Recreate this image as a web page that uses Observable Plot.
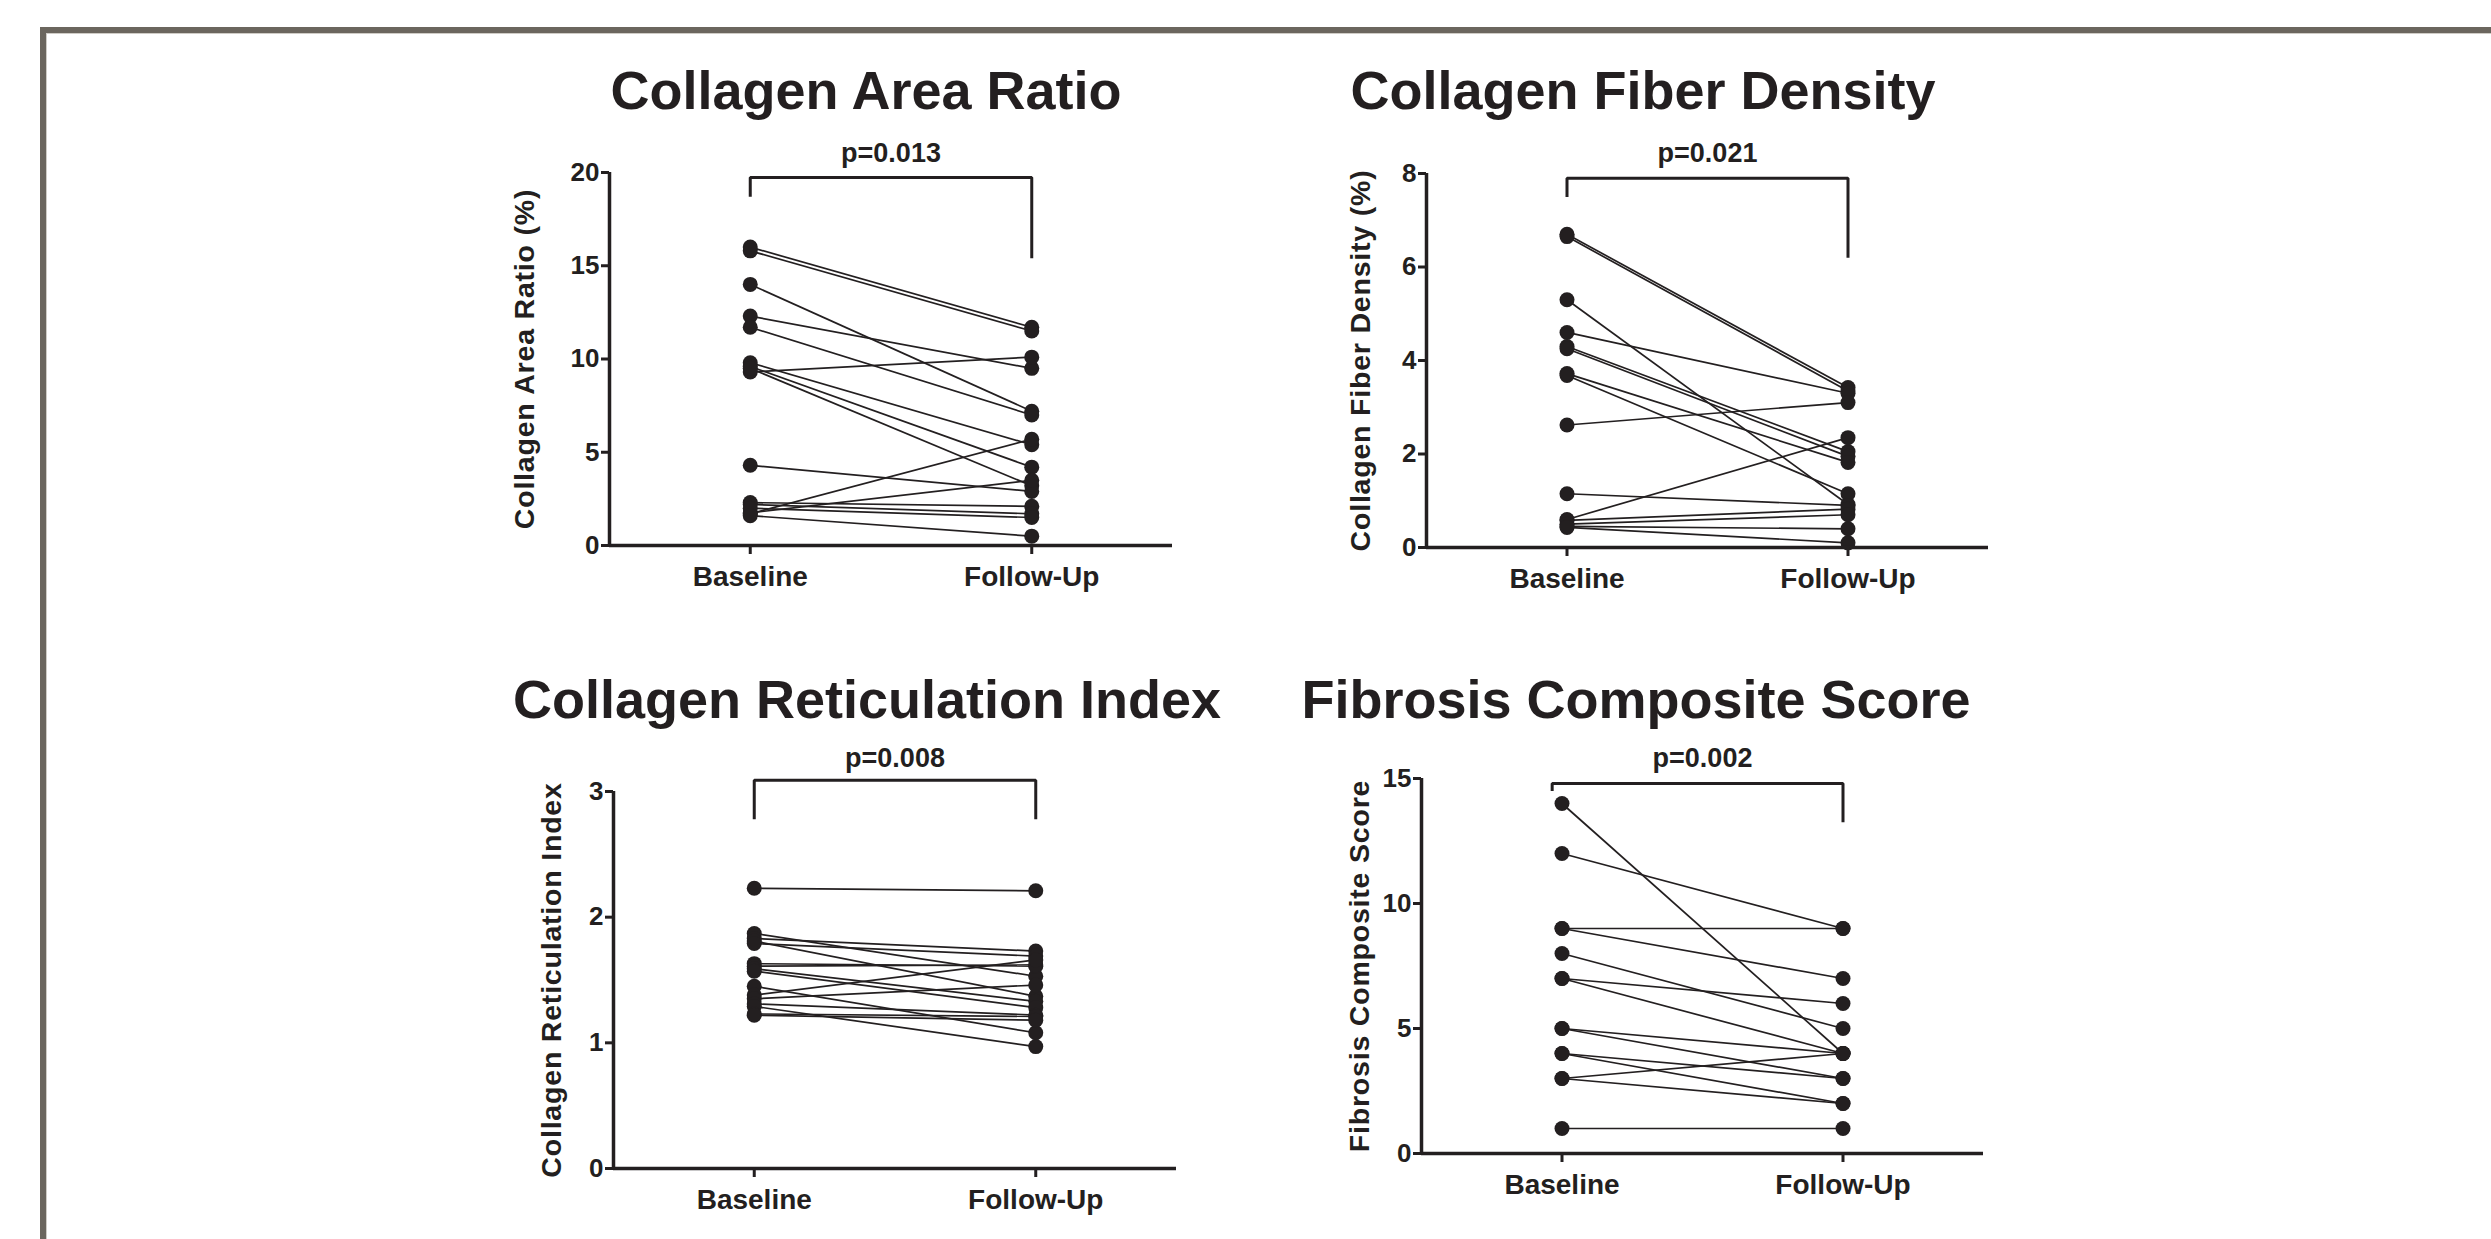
<!DOCTYPE html>
<html>
<head>
<meta charset="utf-8">
<script src="https://cdn.jsdelivr.net/npm/d3@7"></script>
<script src="https://cdn.jsdelivr.net/npm/@observablehq/plot@0.6"></script>
<style>
  html, body { margin: 0; padding: 0; background: #ffffff; width: 2491px; height: 1239px; overflow: hidden; }
  body { position: relative; font-family: "Liberation Sans", Arial, Helvetica, sans-serif; }
  #frame { position: absolute; left: 40px; top: 27px; width: 2500px; height: 1300px;
           border-top: 6px solid #6b665e; border-left: 6px solid #6b665e; box-sizing: border-box; }
  #frame2 { position: absolute; left: 46px; top: 33px; width: 2500px; height: 1300px;
           border-top: 1px solid #cfccc6; border-left: 1px solid #cfccc6; box-sizing: border-box; }
  .panel { position: absolute; z-index: 1; }
  .title { position: absolute; z-index: 2; font-weight: bold; font-size: 54px; line-height: 1;
           color: #231f20; white-space: nowrap; transform: translateX(-50%); }
</style>
</head>
<body>
<div id="frame"></div>
<div id="frame2"></div>
<script>
// ---------------- data ----------------
const groups = ["Baseline", "Follow-Up"];
const titles = ["Collagen Area Ratio", "Collagen Fiber Density", "Collagen Reticulation Index", "Fibrosis Composite Score"];
const yLabels = ["Collagen Area Ratio (%)", "Collagen Fiber Density (%)", "Collagen Reticulation Index", "Fibrosis Composite Score"];
const pValues = ["p=0.013", "p=0.021", "p=0.008", "p=0.002"];
const yTicks = [[0, 5, 10, 15, 20], [0, 2, 4, 6, 8], [0, 1, 2, 3], [0, 5, 10, 15]];

const areaBaseline = [16.0, 15.8, 14.0, 12.3, 11.7, 9.3, 9.8, 9.6, 9.5, 4.3, 1.7, 1.75, 2.3, 2.2, 2.0, 1.6];
const areaFollowUp = [11.7, 11.5, 7.2, 9.5, 7.0, 10.1, 5.4, 4.2, 3.2, 2.9, 5.7, 3.5, 2.1, 1.7, 1.5, 0.5];

const fiberBaseline = [6.70, 6.65, 5.30, 4.60, 4.30, 4.25, 3.72, 3.68, 2.62, 1.15, 0.60, 0.58, 0.50, 0.45, 0.43];
const fiberFollowUp = [3.42, 3.35, 0.92, 3.30, 2.05, 1.95, 1.82, 1.15, 3.10, 0.90, 2.35, 0.82, 0.70, 0.40, 0.10];

const reticBaseline = [2.23, 1.87, 1.83, 1.81, 1.79, 1.63, 1.61, 1.59, 1.57, 1.45, 1.38, 1.35, 1.31, 1.29, 1.23, 1.22];
const reticFollowUp = [2.21, 1.53, 1.73, 1.37, 1.69, 1.61, 1.62, 1.33, 1.28, 1.08, 1.66, 1.46, 1.22, 0.97, 1.21, 1.18];

const scoreBaseline = [14, 12, 9, 9, 8, 7, 7, 5, 5, 4, 4, 3, 3, 1];
const scoreFollowUp = [4, 9, 9, 7, 5, 6, 4, 4, 3, 3, 2, 4, 2, 1];

// significance bracket levels (data units): [top, left leg end, right leg end]
const bracketLevels = [[19.73, 18.7, 15.4], [7.9, 7.5, 6.2], [3.09, 2.78, 2.78], [14.8, 14.5, 13.25]];

// ---------------- layout ----------------
const INK = "#231f20";
const FONT = '"Liberation Sans", Arial, Helvetica, sans-serif';
const frames = [
  {left: 609, right: 1172, top: 172, bottom: 545},
  {left: 1426, right: 1988, top: 173, bottom: 547},
  {left: 613, right: 1176, top: 791, bottom: 1168},
  {left: 1421, right: 1983, top: 778, bottom: 1153}
];
const titlePos = [{x: 866, top: 63}, {x: 1643, top: 63}, {x: 867, top: 672}, {x: 1636, top: 672}];
const pDy = [-19, -20, -33, -20];
const labelDx = [-85, -66, -62, -62];
const bracketLeftX = [0, 0, 0, -0.035];
const ML = 130, MR = 20, MT = 80, MB = 70;

const series = [
  [areaBaseline, areaFollowUp],
  [fiberBaseline, fiberFollowUp],
  [reticBaseline, reticFollowUp],
  [scoreBaseline, scoreFollowUp]
];

series.forEach(([base, follow], i) => {
  const f = frames[i];
  const rows = base.map((b, k) => ({b, f: follow[k]}));
  const ticks = yTicks[i];
  const yMax = ticks[ticks.length - 1];
  const [bt, bl, br] = bracketLevels[i];
  const bracket = [
    {x: bracketLeftX[i], y: bl}, {x: bracketLeftX[i], y: bt}, {x: 1, y: bt}, {x: 1, y: br}
  ];
  const width = ML + (f.right - f.left) + MR;
  const height = MT + (f.bottom - f.top) + MB;

  const svg = Plot.plot({
    width, height,
    marginLeft: ML, marginRight: MR, marginTop: MT, marginBottom: MB,
    style: {background: "transparent", color: INK, fontFamily: FONT, fontWeight: "bold", overflow: "visible", maxWidth: "none"},
    x: {domain: [-0.5, 1.5]},
    y: {domain: [0, yMax]},
    marks: [
      Plot.link(rows, {x1: () => 0, x2: () => 1, y1: "b", y2: "f", stroke: INK, strokeWidth: 1.7}),
      Plot.dot(rows, {x: () => 0, y: "b", r: 7.5, fill: INK, stroke: null}),
      Plot.dot(rows, {x: () => 1, y: "f", r: 7.5, fill: INK, stroke: null}),
      Plot.ruleY([0], {stroke: INK, strokeWidth: 3.5}),
      Plot.ruleX([-0.5], {y1: 0, y2: yMax, stroke: INK, strokeWidth: 3.5}),
      Plot.axisY({ticks, tickFormat: (d) => `${d}`, tickSize: 8, tickPadding: 2, fontSize: 26, fontWeight: "bold", strokeWidth: 3, label: null}),
      Plot.axisX({ticks: [0, 1], tickFormat: (d) => groups[d], tickSize: 9, tickPadding: 12, fontSize: 28, fontWeight: "bold", strokeWidth: 3, label: null}),
      Plot.line(bracket, {x: "x", y: "y", stroke: INK, strokeWidth: 3, strokeLinejoin: "miter", strokeLinecap: "butt"}),
      Plot.text([pValues[i]], {frameAnchor: "top", lineAnchor: "middle", textAnchor: "middle", dy: pDy[i], fontSize: 27, fontWeight: "bold", fill: INK}),
      Plot.text([yLabels[i]], {frameAnchor: "left", textAnchor: "middle", lineAnchor: "middle", rotate: -90, dx: labelDx[i], fontSize: 28.5, fontWeight: "bold", fill: INK})
    ]
  });
  d3.select(svg).selectAll("text").filter(function () { return this.textContent === yLabels[i]; })
    .style("letter-spacing", "0.8px");

  const div = document.createElement("div");
  div.className = "panel";
  div.style.left = (f.left - ML) + "px";
  div.style.top = (f.top - MT) + "px";
  div.style.width = width + "px";
  div.style.height = height + "px";
  div.appendChild(svg);
  document.body.appendChild(div);

  const t = document.createElement("div");
  t.className = "title";
  t.textContent = titles[i];
  t.style.left = titlePos[i].x + "px";
  t.style.top = titlePos[i].top + "px";
  document.body.appendChild(t);
});
</script>
</body>
</html>
